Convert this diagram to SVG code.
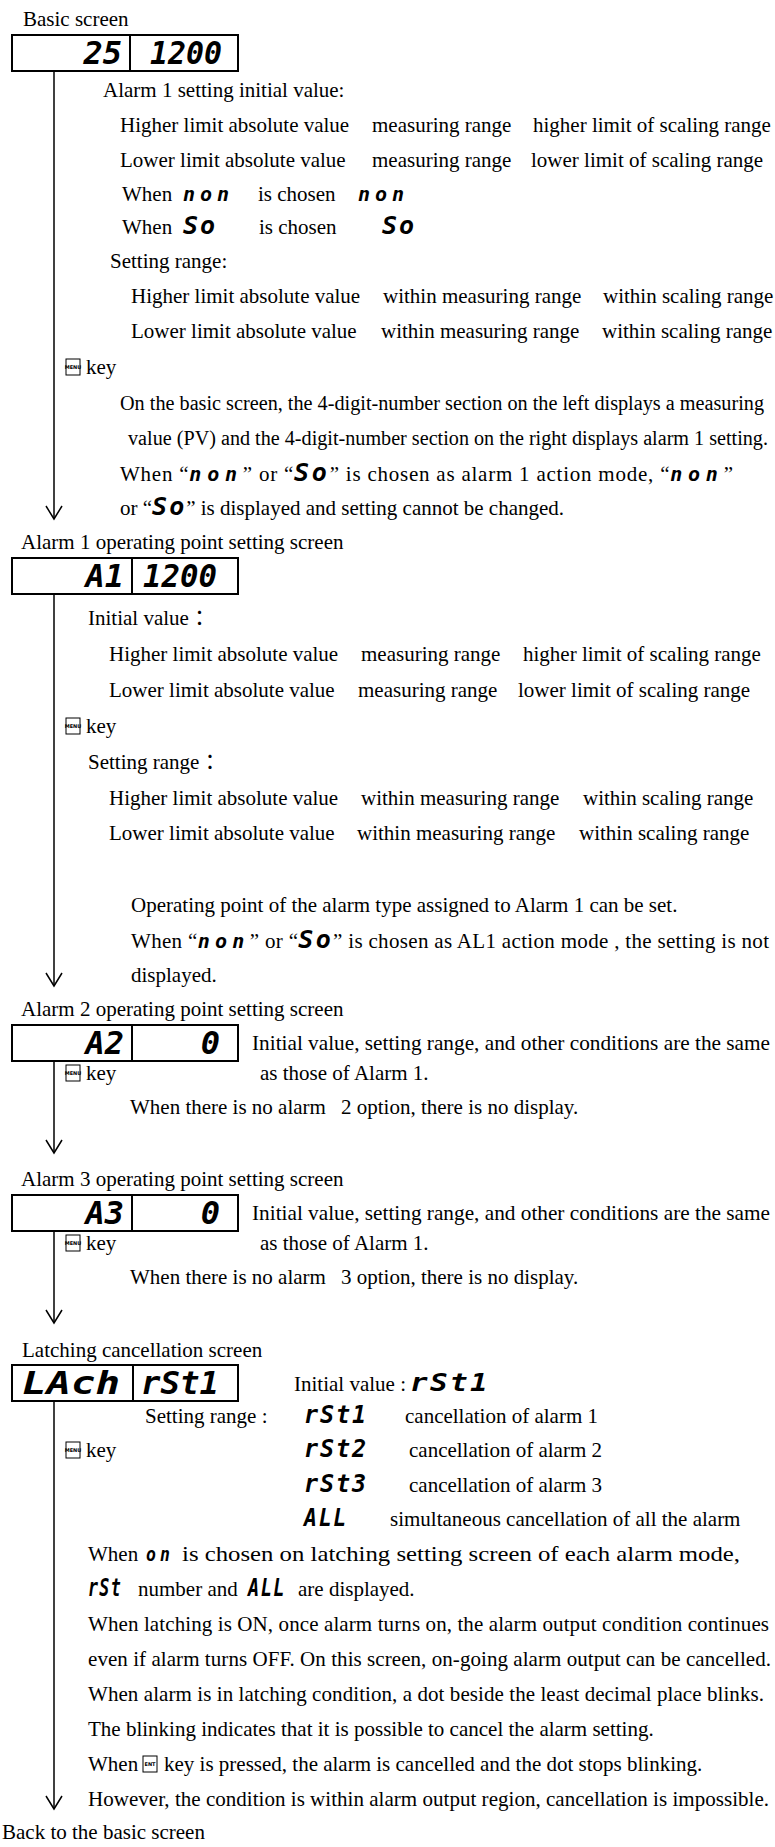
<svg xmlns="http://www.w3.org/2000/svg" width="775" height="1847" viewBox="0 0 775 1847">
<style>
.t{font-family:"Liberation Serif","Times New Roman","Noto Sans CJK JP",serif;font-size:21px;fill:#000}
.t20{font-size:20px}
.sb{font-family:"DejaVu Sans Mono",monospace;font-weight:bold;font-style:oblique;font-size:32px;fill:#000}
.si{font-family:"DejaVu Sans Mono",monospace;font-weight:bold;font-style:oblique;font-size:20px;fill:#000;letter-spacing:5px}
.sS{font-family:"DejaVu Sans Mono",monospace;font-weight:bold;font-style:oblique;font-size:25px;fill:#000;letter-spacing:2px}
.box{fill:#fff;stroke:#000;stroke-width:2}
.conn{fill:none;stroke:#000;stroke-width:1.5}
.kr{fill:#fff;stroke:#000;stroke-width:1}
.kt{font-family:"DejaVu Sans",sans-serif;font-size:5px;font-weight:bold;fill:#000}
</style>
<defs>
<marker id="ah" viewBox="0 0 16 18" refX="14" refY="9" markerWidth="16" markerHeight="18" markerUnits="userSpaceOnUse" orient="auto">
<path d="M1,1 L14,9 L1,17" fill="none" stroke="#000" stroke-width="1.5"/>
</marker>
<g id="menu"><rect class="kr" x="0" y="0" width="14" height="16"/><text class="kt" x="7" y="10" text-anchor="middle">MENU</text></g>
<g id="ent"><rect class="kr" x="0" y="0" width="14" height="16"/><text class="kt" x="7" y="10" text-anchor="middle">ENT</text></g>
</defs>
<rect width="775" height="1847" fill="#fff"/>

<g id="connectors">
<path class="conn" d="M54,71 V519" marker-end="url(#ah)"/>
<path class="conn" d="M54,594 V986" marker-end="url(#ah)"/>
<path class="conn" d="M54,1061 V1153" marker-end="url(#ah)"/>
<path class="conn" d="M54,1231 V1323" marker-end="url(#ah)"/>
<path class="conn" d="M54,1401 V1809" marker-end="url(#ah)"/>
</g>

<g id="basic-screen">
<text class="t" x="23" y="26">Basic screen</text>
<rect class="box" x="12" y="35" width="226" height="36"/>
<line x1="130" y1="35" x2="130" y2="71" stroke="#000" stroke-width="2"/>
<text class="sb" x="122" y="64" text-anchor="end">25</text>
<text class="sb" x="150" y="64" textLength="72" lengthAdjust="spacingAndGlyphs">1200</text>
</g>
<g id="basic-notes">
<text class="t" x="103" y="97">Alarm 1 setting initial value:</text>
<text class="t" x="120" y="132">Higher limit absolute value</text>
<text class="t" x="372" y="132">measuring range</text>
<text class="t" x="533" y="132">higher limit of scaling range</text>
<text class="t" x="120" y="167">Lower limit absolute value</text>
<text class="t" x="372" y="167">measuring range</text>
<text class="t" x="531" y="167">lower limit of scaling range</text>
<text class="t" x="122" y="201">When</text>
<text class="si" x="183" y="201">non</text>
<text class="t" x="258" y="201">is chosen</text>
<text class="si" x="358" y="201">non</text>
<text class="t" x="122" y="234">When</text>
<text class="sS" x="183" y="234">So</text>
<text class="t" x="259" y="234">is chosen</text>
<text class="sS" x="382" y="234">So</text>
<text class="t" x="110" y="268">Setting range:</text>
<text class="t" x="131" y="303">Higher limit absolute value</text>
<text class="t" x="383" y="303">within measuring range</text>
<text class="t" x="603" y="303">within scaling range</text>
<text class="t" x="131" y="338">Lower limit absolute value</text>
<text class="t" x="381" y="338">within measuring range</text>
<text class="t" x="602" y="338">within scaling range</text>
<use href="#menu" x="66" y="359"/>
<text class="t" x="86" y="374">key</text>
<text class="t t20" x="120" y="410" textLength="644" lengthAdjust="spacingAndGlyphs">On the basic screen, the 4-digit-number section on the left displays a measuring</text>
<text class="t t20" x="128" y="445" textLength="640" lengthAdjust="spacingAndGlyphs">value (PV) and the 4-digit-number section on the right displays alarm 1 setting.</text>
<text class="t" x="120" y="481" textLength="613">When “<tspan class="si">non</tspan>” or “<tspan class="sS">So</tspan>” is chosen as alarm 1 action mode, “<tspan class="si">non</tspan>”</text>
<text class="t" x="120" y="515">or “<tspan class="sS">So</tspan>” is displayed and setting cannot be changed.</text>
</g>

<g id="alarm1-screen">
<text class="t" x="21" y="549">Alarm 1 operating point setting screen</text>
<rect class="box" x="12" y="558" width="226" height="36"/>
<line x1="132" y1="558" x2="132" y2="594" stroke="#000" stroke-width="2"/>
<text class="sb" x="124" y="587" text-anchor="end">A1</text>
<text class="sb" x="143" y="587" textLength="74" lengthAdjust="spacingAndGlyphs">1200</text>
</g>
<g id="alarm1-notes">
<text class="t" x="88" y="625">Initial value：</text>
<text class="t" x="109" y="661">Higher limit absolute value</text>
<text class="t" x="361" y="661">measuring range</text>
<text class="t" x="523" y="661">higher limit of scaling range</text>
<text class="t" x="109" y="697">Lower limit absolute value</text>
<text class="t" x="358" y="697">measuring range</text>
<text class="t" x="518" y="697">lower limit of scaling range</text>
<use href="#menu" x="66" y="718"/>
<text class="t" x="86" y="733">key</text>
<text class="t" x="88" y="769">Setting range：</text>
<text class="t" x="109" y="805">Higher limit absolute value</text>
<text class="t" x="361" y="805">within measuring range</text>
<text class="t" x="583" y="805">within scaling range</text>
<text class="t" x="109" y="840">Lower limit absolute value</text>
<text class="t" x="357" y="840">within measuring range</text>
<text class="t" x="579" y="840">within scaling range</text>
<text class="t" x="131" y="912">Operating point of the alarm type assigned to Alarm 1 can be set.</text>
<text class="t" x="131" y="948" textLength="638">When “<tspan class="si">non</tspan>” or “<tspan class="sS">So</tspan>” is chosen as AL1 action mode , the setting is not</text>
<text class="t" x="131" y="982">displayed.</text>
</g>

<g id="alarm2-screen">
<text class="t" x="21" y="1016">Alarm 2 operating point setting screen</text>
<rect class="box" x="12" y="1025" width="226" height="36"/>
<line x1="132" y1="1025" x2="132" y2="1061" stroke="#000" stroke-width="2"/>
<text class="sb" x="124" y="1054" text-anchor="end">A2</text>
<text class="sb" x="220" y="1054" text-anchor="end">0</text>
</g>
<g id="alarm2-notes">
<text class="t" x="252" y="1050" textLength="518" lengthAdjust="spacingAndGlyphs">Initial value, setting range, and other conditions are the same</text>
<use href="#menu" x="66" y="1065"/>
<text class="t" x="86" y="1080">key</text>
<text class="t" x="260" y="1080">as those of Alarm 1.</text>
<text class="t" x="130" y="1114">When there is no alarm</text>
<text class="t" x="341" y="1114">2 option, there is no display.</text>
</g>

<g id="alarm3-screen">
<text class="t" x="21" y="1186">Alarm 3 operating point setting screen</text>
<rect class="box" x="12" y="1195" width="226" height="36"/>
<line x1="132" y1="1195" x2="132" y2="1231" stroke="#000" stroke-width="2"/>
<text class="sb" x="124" y="1224" text-anchor="end">A3</text>
<text class="sb" x="220" y="1224" text-anchor="end">0</text>
</g>
<g id="alarm3-notes">
<text class="t" x="252" y="1220" textLength="518" lengthAdjust="spacingAndGlyphs">Initial value, setting range, and other conditions are the same</text>
<use href="#menu" x="66" y="1235"/>
<text class="t" x="86" y="1250">key</text>
<text class="t" x="260" y="1250">as those of Alarm 1.</text>
<text class="t" x="130" y="1284">When there is no alarm</text>
<text class="t" x="341" y="1284">3 option, there is no display.</text>
</g>

<g id="latching-screen">
<text class="t" x="22" y="1357">Latching cancellation screen</text>
<rect class="box" x="12" y="1365" width="226" height="36"/>
<line x1="133" y1="1365" x2="133" y2="1401" stroke="#000" stroke-width="2"/>
<text class="sb" x="22" y="1394" textLength="98" lengthAdjust="spacingAndGlyphs">LAch</text>
<text class="sb" x="141" y="1394" textLength="78" lengthAdjust="spacingAndGlyphs">rSt1</text>
</g>
<g id="latching-notes">
<text class="t" x="294" y="1391">Initial value :</text>
<text class="sS" x="410" y="1391" textLength="80" lengthAdjust="spacingAndGlyphs">rSt1</text>
<text class="t" x="145" y="1423">Setting range :</text>
<text class="sS" x="304" y="1423" textLength="64" lengthAdjust="spacingAndGlyphs">rSt1</text>
<text class="t" x="405" y="1423">cancellation of alarm 1</text>
<use href="#menu" x="66" y="1442"/>
<text class="t" x="86" y="1457">key</text>
<text class="sS" x="304" y="1457" textLength="64" lengthAdjust="spacingAndGlyphs">rSt2</text>
<text class="t" x="409" y="1457">cancellation of alarm 2</text>
<text class="sS" x="304" y="1492" textLength="64" lengthAdjust="spacingAndGlyphs">rSt3</text>
<text class="t" x="409" y="1492">cancellation of alarm 3</text>
<text class="sS" x="304" y="1526" textLength="44" lengthAdjust="spacingAndGlyphs">ALL</text>
<text class="t" x="390" y="1526">simultaneous cancellation of all the alarm</text>
<text class="t" x="88" y="1561">When</text>
<text class="si" x="146" y="1561" textLength="28" lengthAdjust="spacingAndGlyphs">on</text>
<text class="t" x="182" y="1561" textLength="558" lengthAdjust="spacingAndGlyphs">is chosen on latching setting screen of each alarm mode,</text>
<text class="sS" x="88" y="1596" textLength="34" lengthAdjust="spacingAndGlyphs">rSt</text>
<text class="t" x="138" y="1596">number and</text>
<text class="sS" x="248" y="1596" textLength="38" lengthAdjust="spacingAndGlyphs">ALL</text>
<text class="t" x="298" y="1596">are displayed.</text>
<text class="t" x="88" y="1631" textLength="681">When latching is ON, once alarm turns on, the alarm output condition continues</text>
<text class="t" x="88" y="1666" textLength="683">even if alarm turns OFF. On this screen, on-going alarm output can be cancelled.</text>
<text class="t" x="88" y="1701" textLength="676">When alarm is in latching condition, a dot beside the least decimal place blinks.</text>
<text class="t" x="88" y="1736">The blinking indicates that it is possible to cancel the alarm setting.</text>
<text class="t" x="88" y="1771">When</text>
<use href="#ent" x="143" y="1756"/>
<text class="t" x="164" y="1771">key is pressed, the alarm is cancelled and the dot stops blinking.</text>
<text class="t" x="88" y="1806" textLength="681">However, the condition is within alarm output region, cancellation is impossible.</text>
</g>
<text class="t" x="2" y="1839">Back to the basic screen</text>
</svg>
